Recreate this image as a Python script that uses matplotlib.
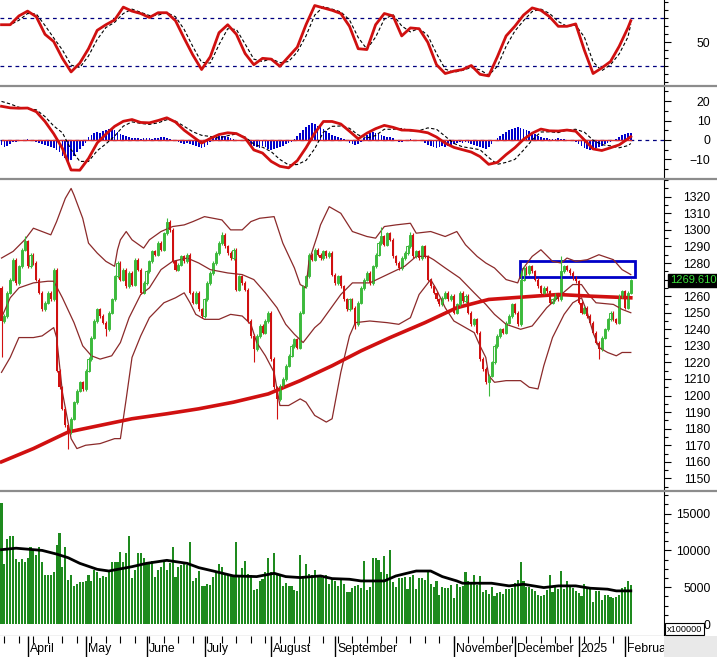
import numpy as np
import matplotlib.pyplot as plt
from matplotlib.patches import Rectangle
from matplotlib.lines import Line2D
from matplotlib.ticker import FixedLocator, MultipleLocator

plt.rcParams['font.family'] = ['Liberation Sans', 'DejaVu Sans']

# ---- daily closes (index points), one per trading day, mid-March 2024 -> early Feb 2025
closes = [
    1245, 1248, 1262, 1270, 1282, 1268, 1278, 1288, 1293, 1278,
    1285, 1280, 1270, 1262, 1252, 1256, 1262, 1258, 1276, 1215,
    1205, 1192, 1182, 1178, 1186, 1196, 1203, 1208, 1204, 1215,
    1222, 1235, 1245, 1252, 1248, 1244, 1240, 1250, 1258, 1272,
    1280, 1270, 1276, 1266, 1274, 1267, 1282, 1276, 1262, 1268,
    1275, 1281, 1287, 1285, 1292, 1288, 1298, 1305, 1300, 1281,
    1276, 1279, 1284, 1281, 1285, 1262, 1256, 1262, 1252, 1248,
    1258, 1268, 1274, 1280, 1286, 1292, 1297, 1290, 1286, 1283,
    1288, 1264, 1272, 1268, 1264, 1245, 1236, 1228, 1236, 1242,
    1238, 1245, 1250, 1222, 1205, 1198, 1206, 1210, 1218, 1224,
    1230, 1234, 1229, 1250, 1266, 1272, 1285, 1282, 1288, 1285,
    1283, 1287, 1284, 1286, 1273, 1268, 1272, 1266, 1258, 1252,
    1258, 1253, 1243, 1256, 1265, 1270, 1274, 1268, 1278, 1285,
    1292, 1296, 1291, 1298, 1294, 1284, 1280, 1277, 1283, 1286,
    1290, 1297, 1284, 1287, 1283, 1290, 1284, 1270, 1266, 1262,
    1258, 1255, 1259, 1262, 1258, 1260, 1250, 1255, 1262, 1257,
    1260, 1250, 1243, 1246, 1238, 1222, 1216, 1208, 1212, 1220,
    1230, 1236, 1240, 1238, 1244, 1248, 1255, 1250, 1243, 1270,
    1277, 1274, 1278, 1275, 1270, 1266, 1262, 1265, 1263, 1256,
    1258, 1261, 1258, 1275, 1278, 1276, 1274, 1271, 1269, 1256,
    1250, 1253, 1248, 1244, 1238, 1232, 1228, 1235, 1240, 1246,
    1250, 1246, 1244, 1260, 1263, 1253, 1262, 1269.61,
]
first_open = 1265
long_highs = {8: 1296, 57: 1307, 76: 1299, 131: 1302, 141: 1299, 179: 1276, 193: 1284}
long_lows = {0: 1223, 23: 1168, 36: 1236, 87: 1220, 95: 1186, 122: 1240, 168: 1200, 206: 1222}

# volume, in units of 100000
volume = [
    16500, 8100, 11600, 12000, 12000, 8800, 8400, 8800, 8400, 9000,
    10500, 10200, 9400, 10500, 8400, 6700, 6600, 6700, 7100, 10800,
    12400, 7700, 10500, 6000, 6700, 5100, 5500, 5700, 5700, 5800,
    6600, 5900, 7300, 7000, 6300, 6500, 6400, 7300, 8400, 8400,
    8400, 9800, 8400, 9700, 12000, 6300, 7300, 9700, 9700, 8900,
    8300, 8300, 8600, 6400, 7400, 7800, 8600, 7400, 8300, 10400,
    6400, 7800, 8000, 8300, 8000, 11200, 5900, 6300, 7200, 5100,
    5200, 5400, 5300, 6400, 7200, 8100, 7800, 6900, 6700, 6700,
    6700, 11100, 6700, 7600, 8600, 6800, 6700, 4600, 4700, 5800,
    6100, 7100, 8900, 7100, 9700, 6700, 6700, 5100, 5600, 5100,
    5100, 4600, 4500, 9400, 6500, 8200, 6800, 6700, 7400, 6600,
    6400, 6200, 6600, 5400, 6100, 5900, 5200, 6200, 5500, 4300,
    4300, 4900, 5200, 5300, 4900, 8500, 4600, 5000, 9000, 8900,
    8700, 7000, 9200, 6800, 10100, 5700, 5000, 6300, 6300, 6400,
    4800, 6400, 6700, 4700, 6300, 6200, 6000, 7400, 5400, 5000,
    5800, 4000, 5000, 4900, 4900, 5300, 3600, 5400, 5000, 5200,
    7000, 5800, 5500, 6700, 5300, 6500, 4400, 4600, 4100, 5000,
    3800, 4200, 4300, 4100, 4700, 4800, 4900, 5600, 6000, 8400,
    5800, 5000, 5000, 4800, 4500, 4000, 3800, 4000, 4600, 6600,
    4300, 5000, 4800, 7200, 4700, 5800, 5200, 4900, 4500, 4200,
    3800, 5500, 5000, 4800, 3000, 4500, 4500, 3300, 4000, 4000,
    3700, 3600, 3700, 4000, 4900, 5000, 5900, 5300,
]
vol_ma_bars = [0, 5, 14, 19, 23, 27, 33, 37, 45, 50, 57, 64, 68, 73, 80, 88, 94, 98, 103, 110,
               114, 120, 124, 132, 136, 143, 148, 152, 157, 159, 169, 175, 180, 187, 192, 198, 203, 209, 212, 217]
vol_ma = [10100, 10300, 10000, 9500, 9000, 8240, 7430, 7200, 7790, 8240, 8650, 8240, 7660, 7200, 6530, 6440, 6890, 6440, 6310, 6530,
          6170, 6080, 5850, 5850, 6530, 7200, 7200, 6440, 5850, 5540, 5540, 5180, 5400, 4950, 5180, 5180, 4860, 4730, 4500, 4500]

# Bollinger bands and MA200
up_bars = [0, 4, 8, 11, 14, 17, 19, 22, 24, 25, 28, 30, 33, 36, 39, 40, 41, 43, 45, 49,
           51, 55, 59, 63, 66, 70, 73, 76, 79, 83, 86, 89, 94, 97, 101, 103, 105, 106, 109, 110,
           113, 117, 121, 126, 129, 132, 136, 141, 143, 148, 153, 157, 160, 164, 167, 170, 174, 178, 180, 183,
           186, 190, 193, 195, 198, 202, 206, 211, 214, 217]
up_vals = [1283, 1287, 1294, 1301, 1299, 1297, 1305, 1319, 1325, 1321, 1307, 1292, 1286, 1281, 1278, 1288, 1294, 1299, 1294, 1289,
           1294, 1299, 1302, 1303, 1305, 1308, 1307, 1306, 1300, 1300, 1305, 1307, 1308, 1292, 1277, 1267, 1265, 1281, 1297, 1303,
           1314, 1310, 1299, 1296, 1295, 1302, 1303, 1304, 1298, 1299, 1296, 1299, 1291, 1284, 1280, 1277, 1270, 1268, 1277, 1284,
           1288, 1281, 1280, 1283, 1281, 1282, 1285, 1282, 1276, 1273]
mid_bars = [0, 3, 6, 11, 16, 18, 21, 25, 28, 31, 34, 38, 41, 44, 48, 51, 55, 59, 64, 68,
            72, 78, 83, 87, 91, 95, 98, 101, 104, 108, 110, 117, 121, 127, 133, 139, 143, 147, 149, 153,
            158, 163, 167, 170, 174, 179, 183, 188, 193, 197, 200, 202, 205, 211, 214, 217]
mid_vals = [1247, 1259, 1265, 1268, 1269, 1269, 1259, 1244, 1230, 1224, 1222, 1224, 1232, 1247, 1261, 1265, 1276, 1281, 1283, 1280,
            1276, 1274, 1273, 1270, 1262, 1253, 1243, 1237, 1232, 1241, 1244, 1261, 1268, 1268, 1273, 1278, 1284, 1284, 1282, 1277,
            1271, 1262, 1255, 1249, 1243, 1240, 1242, 1253, 1261, 1267, 1267, 1262, 1256, 1255, 1252, 1250]
lo_bars = [0, 3, 6, 11, 14, 18, 19, 21, 24, 26, 29, 34, 39, 41, 43, 45, 48, 51, 56, 60,
           63, 65, 67, 70, 75, 79, 83, 86, 88, 91, 94, 96, 99, 103, 105, 108, 112, 114, 117, 120,
           122, 127, 133, 137, 141, 144, 148, 150, 153, 156, 160, 163, 165, 167, 168, 170, 174, 179, 182, 185,
           187, 190, 194, 197, 200, 202, 204, 206, 209, 212, 214, 217]
lo_vals = [1214, 1223, 1235, 1235, 1236, 1241, 1235, 1202, 1174, 1168, 1170, 1171, 1174, 1174, 1198, 1223, 1236, 1247, 1256, 1259,
           1262, 1256, 1249, 1246, 1246, 1249, 1248, 1243, 1232, 1224, 1214, 1194, 1194, 1198, 1196, 1188, 1184, 1186, 1214, 1236,
           1244, 1245, 1244, 1243, 1247, 1261, 1270, 1264, 1253, 1245, 1241, 1238, 1230, 1223, 1212, 1208, 1209, 1209, 1205, 1204,
           1218, 1235, 1249, 1256, 1259, 1250, 1238, 1229, 1226, 1224, 1226, 1226]
ma200_bars = [0, 11, 23, 34, 45, 57, 68, 80, 92, 103, 114, 124, 134, 146, 157, 168, 180, 192, 203, 217]
ma200_vals = [1160, 1168, 1178, 1182, 1186, 1189, 1192, 1196, 1201, 1209, 1218, 1227, 1235, 1244, 1253, 1258, 1259.5, 1261, 1260, 1259]

# stochastic %K and MACD line, read every third session
osc_bars = list(range(0, 217, 3)) + [217]
stoch_k = [72, 72, 83, 89, 82, 60, 51, 30, 13, 24, 42, 65, 72, 78, 94, 89, 86, 81, 87, 87,
           77, 55, 34, 16, 32, 62, 72, 60, 36, 22, 30, 29, 20, 32, 44, 72, 96, 93, 90, 86,
           70, 42, 41, 72, 86, 83, 58, 68, 67, 50, 22, 11, 14, 16, 21, 10, 8, 32, 58, 70,
           84, 93, 90, 82, 70, 70, 73, 40, 11, 18, 26, 45, 68, 77]
macd = [17.3, 16.5, 16.3, 16.4, 14.5, 9.5, 3.2, -4.3, -15.4, -15.5, -9.5, -1.5, 3.0, 7.0, 9.6, 10.5, 9.0, 8.8, 10.0, 11.4,
        9.2, 5.0, 1.7, -1.6, 0.8, 2.8, 3.7, 3.3, 1.0, -5.1, -6.7, -11, -13.5, -14.3, -10.6, -4, 3.5, 9.5, 9.5, 8.2,
        4.5, 0.6, 3.5, 5.8, 7.5, 6.5, 5.1, 5.0, 4.5, 3.7, 1.5, -1.6, -3.8, -5.0, -6.2, -8.5, -12.5, -11.5, -7.5, -4.0,
        0.3, 3.5, 5.6, 4.7, 4.6, 5.1, 4.5, 0, -4.6, -5.4, -4.0, -2.5, 0.6, 1.7]
# MACD histogram, one per session
macd_hist = [
    -2.5, -3.5, -3, -2, -1, -0.8, -0.5, -0.3, 0.2, 0.3,
    0.2, -0.5, -1, -1.5, -2, -2.5, -3, -3.5, -4, -5,
    -6, -8, -9.5, -11, -10.5, -8, -6, -4.5, -3, -1.5,
    1.5, 2.5, 3.5, 4, 3.5, 4.5, 5, 5.5, 6, 5,
    4, 3, 2.5, 2, 1.5, 1.2, 1, 0.8, 0.5, 0.8,
    1, 0.8, 0.6, 1, 1.2, 1.5, 1.3, 1, 0.5, 0,
    -0.5, -1, -1.5, -2, -1.5, -2, -2.5, -3, -3.5, -4,
    -3.5, -2.5, -1, 0.8, 1.2, 1.8, 2, 1.8, 1.5, 1,
    0.5, 0.2, 0, -0.3, -0.5, -1.5, -2.5, -3, -3.5, -4,
    -3, -3.5, -4.5, -5, -4.5, -4, -3.5, -3, -2, -1.5,
    -0.8, 0.5, 2, 3.5, 5, 6.5, 7.5, 8.5, 8, 7,
    6.5, 5.5, 4.5, 3.5, 2.5, 2, 1.5, 1, 0.5, -0.5,
    -1.5, -2, -2.5, -2, -1, 1, 2.5, 3.5, 4, 3.5,
    3, 2.5, 2, 1.5, 1.5, 1, -0.5, -1, -0.8, -0.5,
    0, 0.3, 0.2, 0, -0.3, -0.5, -1.5, -2.5, -3, -3.5,
    -4, -3.5, -3, -3.5, -3, -2.5, -2, -1.5, -1, -1.5,
    -1.2, -1.5, -2, -2.5, -3, -3.5, -4, -4.5, -3.5, -2,
    -0.5, 1, 2, 3, 4, 5, 5.5, 6, 6.5, 6,
    5.5, 5, 4.5, 3.5, 3, 2, 1.5, 1, 0.8, 0.5,
    0.3, 0.5, 0.8, 0.5, 0.3, 0, 0.2, -0.5, -1, -2,
    -3, -4, -4.5, -5, -4.5, -4, -3.5, -3, -2, -1.5,
    -1, -0.5, 0.5, 1.5, 2.5, 3, 3.5, 3.5,
]

month_starts = [9, 29, 50, 70, 93, 115, 156, 177, 199, 215]
month_names = ['April', 'May', 'June', 'July', 'August', 'September', 'November', 'December', '2025', 'February']
box_bars = (178.8, 218.4)
box_prices = (1271.7, 1281.0)
last_price = 1269.61

# ------------------------------------------------------------------
n = len(closes)
idx = np.arange(n)
closes = np.array(closes, float)
opens = np.r_[first_open, closes[:-1]]

W, H = 717, 657
fig = plt.figure(figsize=(W / 100, H / 100), dpi=100)
fig.patch.set_facecolor('white')
XR = 664


def add_panel(top, bottom):
    return fig.add_axes([0, 1 - bottom / H, XR / W, (bottom - top) / H])


ax_s = add_panel(0, 84)
ax_m = add_panel(87, 177)
ax_p = add_panel(180, 489)
ax_v = add_panel(492, 636)
ax_d = add_panel(636, 657)

xlim = (-0.52, (XR - 1.5) / 2.9)
for ax in (ax_s, ax_m, ax_p, ax_v, ax_d):
    ax.set_xlim(*xlim)
    for s in ('left', 'top', 'bottom'):
        ax.spines[s].set_visible(False)
    ax.set_xticks([])
    ax.yaxis.tick_right()
    ax.tick_params(axis='y', which='major', length=5, width=0.8, labelsize=8.8, pad=28.5)
    ax.tick_params(axis='y', which='minor', length=3, width=0.8)

RED = '#d01010'
GREEN = '#3cba3c'
NAVY = '#000080'

# ---- stochastic
k = np.array(stoch_k, float)
d = np.r_[k[0], (k[1:] + k[:-1]) / 2]
ax_s.set_ylim(-2.1, 102.9)
ax_s.axhline(80, color=NAVY, lw=0.9, ls=(0, (3, 3)))
ax_s.axhline(20, color=NAVY, lw=0.9, ls=(0, (3, 3)))
ax_s.plot(osc_bars, d, color='black', lw=0.8, ls=(0, (3, 2)))
ax_s.plot(osc_bars, k, color=RED, lw=2)
ax_s.yaxis.set_major_locator(FixedLocator([50]))
ax_s.yaxis.set_minor_locator(MultipleLocator(10))

# ---- MACD
hist = np.array(macd_hist, float)
m = np.array(macd, float)
signal = m - hist[osc_bars]
ax_m.set_ylim(-19.0, 27.2)
ax_m.axhline(0, color=NAVY, lw=0.9, ls=(0, (3, 3)))
ax_m.bar(idx, hist, width=0.6, color='#0000cc', lw=0)
ax_m.plot([0, n - 1], [0, 0], color='#e03030', lw=1)
ax_m.plot(osc_bars, signal, color='black', lw=0.8, ls=(0, (3, 2)))
ax_m.plot(osc_bars, m, color=RED, lw=2)
ax_m.yaxis.set_major_locator(FixedLocator([-10, 0, 10, 20]))
ax_m.yaxis.set_minor_locator(MultipleLocator(5))

# ---- price
ax_p.set_ylim(1143.6, 1330.1)
band_c = '#8b2a2a'
ax_p.plot(up_bars, up_vals, color=band_c, lw=0.9)
ax_p.plot(mid_bars, mid_vals, color=band_c, lw=0.9)
ax_p.plot(lo_bars, lo_vals, color=band_c, lw=0.9)
ax_p.plot(ma200_bars, ma200_vals, color=RED, lw=2.6)

up = closes >= opens
body_lo = np.minimum(opens, closes)
body_h = np.maximum(np.abs(closes - opens), 0.6)
highs = np.maximum(opens, closes) + 1.0
lows = body_lo - 1.0
for i, v in long_highs.items():
    highs[i] = v
for i, v in long_lows.items():
    lows[i] = v
ax_p.vlines(idx, lows, highs, colors=[GREEN if u else RED for u in up], lw=0.8)
ax_p.bar(idx[~up], body_h[~up], bottom=body_lo[~up], width=0.75, color=RED, lw=0)
ax_p.bar(idx[up], body_h[up], bottom=body_lo[up], width=0.7, facecolor='white',
         edgecolor=GREEN, lw=0.7)

ax_p.add_patch(Rectangle((box_bars[0], box_prices[0]), box_bars[1] - box_bars[0],
                         box_prices[1] - box_prices[0], fill=False, edgecolor='#0000c8',
                         lw=2, clip_on=False))
ax_p.yaxis.set_major_locator(FixedLocator([v for v in range(1150, 1330, 10) if v != 1270]))
ax_p.yaxis.set_minor_locator(MultipleLocator(5))
ax_p.text(1 + 6 / XR, last_price, f'{last_price:.3f}', transform=ax_p.get_yaxis_transform(),
          ha='left', va='center', fontsize=8.0, color='#3be03b',
          bbox=dict(boxstyle='square,pad=0.15', facecolor='black', edgecolor='black'))

# ---- volume
ax_v.set_ylim(-1630, 17935)
ax_v.bar(idx, volume, width=0.7, color='#1e8a1e', lw=0)
ax_v.plot(vol_ma_bars, vol_ma, color='black', lw=2)
ax_v.spines['bottom'].set_visible(True)
ax_v.yaxis.set_major_locator(FixedLocator([0, 5000, 10000, 15000]))
ax_v.yaxis.set_minor_locator(MultipleLocator(1250))

for ax in (ax_s, ax_m, ax_p, ax_v):
    for t in ax.get_yticklabels():
        t.set_horizontalalignment('right')

# ---- date strip
ax_d.set_ylim(0, 1)
ax_d.spines['right'].set_visible(False)
ax_d.set_yticks([])
ax_d.vlines(range(1, n, 5), 0.68, 1, color='black', lw=0.8)
ax_d.vlines(month_starts, 0, 1, color='black', lw=1)
for ms, name in zip(month_starts, month_names):
    ax_d.text(ms + 0.7, 0.38, name, ha='left', va='center', fontsize=8.8, clip_on=True)

# ---- frame decorations
for yy in (85.5, 178.5, 490.5):
    fig.add_artist(Line2D([0, 1], [1 - yy / H, 1 - yy / H], color='#8c8c8c', lw=1.6,
                          transform=fig.transFigure))
fig.add_artist(Rectangle((XR / W, 0), (W - XR) / W, 21 / H, transform=fig.transFigure,
                         facecolor='#e9e9e9', edgecolor='none'))
fig.text(667 / W, 1 - 629 / H, 'x100000', fontsize=6.6, ha='left', va='center',
         bbox=dict(boxstyle='square,pad=0.2', facecolor='white', edgecolor='black', lw=0.8))

fig.savefig('out.png', dpi=100)
